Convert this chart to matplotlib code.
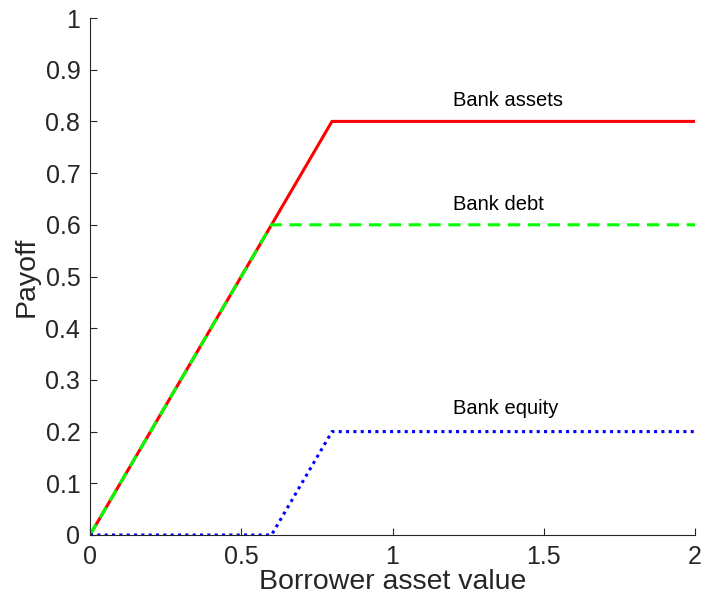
import numpy as np
import matplotlib.pyplot as plt

plt.rcParams['font.family'] = ['Liberation Sans', 'DejaVu Sans']

x_pts = [0, 0.6, 0.8, 2]
assets = [0, 0.6, 0.8, 0.8]
debt = [0, 0.6, 0.6, 0.6]
equity = [0, 0, 0.2, 0.2]

labels = ['Bank assets', 'Bank debt', 'Bank equity']
label_x = 1.2
label_y = [0.84, 0.64, 0.245]

fig = plt.figure(figsize=(7.04, 5.96), dpi=100)
ax = fig.add_axes([90/704, 1 - 535/596, 605/704, 517/596])

ax.plot(x_pts, assets, color='#ff0000', lw=2.2)
ax.plot(x_pts, debt, color='#00ff00', lw=2.2, ls=(0, (4, 2.5)))
ax.plot(x_pts, equity, color='#0000ff', lw=2.2, ls=(0, (1, 1.4)))

for lab, ly in zip(labels, label_y):
    ax.text(label_x, ly, lab, fontsize=14.5, ha='left', va='center', color='#000000')

ax.set_xlim(0, 2)
ax.set_ylim(0, 1)
ax.set_xticks([0, 0.5, 1, 1.5, 2])
ax.set_xticklabels(['0', '0.5', '1', '1.5', '2'])
ax.set_yticks(np.arange(0, 1.01, 0.1))
ax.set_yticklabels(['0', '0.1', '0.2', '0.3', '0.4', '0.5', '0.6', '0.7', '0.8', '0.9', '1'])
ax.tick_params(direction='in', labelsize=18, colors='#262626', length=5, width=0.8, pad=7)
ax.spines['top'].set_visible(False)
ax.spines['right'].set_visible(False)
for s in ['left', 'bottom']:
    ax.spines[s].set_color('#262626')
    ax.spines[s].set_linewidth(0.8)
ax.set_xlabel('Borrower asset value', fontsize=20.5, color='#262626', labelpad=0)
ax.set_ylabel('Payoff', fontsize=20.5, color='#262626', labelpad=4)

fig.savefig('out.png', dpi=100)
